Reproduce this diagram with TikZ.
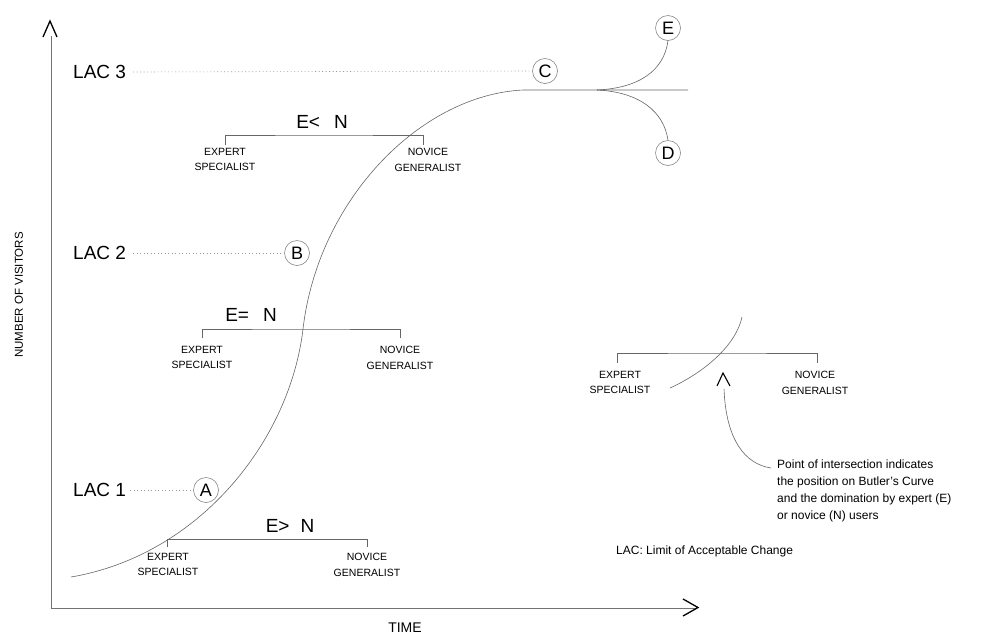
\documentclass[tikz,border=0pt]{standalone}
\usepackage{fontspec}
\setmainfont{Liberation Sans}
\begin{document}
\begin{tikzpicture}[x=1pt,y=-1pt,
  big/.style={font=\fontsize{19}{21}\selectfont, inner sep=0pt},
  rel/.style={font=\fontsize{19}{21}\selectfont, inner sep=0pt},
  lbl/.style={font=\fontsize{10.5}{15.5}\selectfont, align=center, inner sep=0pt, anchor=north},
  circ/.style={circle, draw=black!55, line width=0.5pt, minimum size=25pt, inner sep=0pt, font=\fontsize{18}{20}\selectfont},
  thinln/.style={draw=black!60, line width=0.6pt},
  axisln/.style={draw=black!55, line width=0.8pt},
  caretln/.style={draw=black, line width=1.3pt, line join=miter},
  dotln/.style={draw=black!40, line width=0.6pt, dash pattern=on 1pt off 2.5pt},
  note/.style={font=\fontsize{12}{17}\selectfont, align=left, inner sep=0pt}]
\useasboundingbox (0,0) rectangle (984,638);

% axes
\coordinate (ytop) at (51,36);
\coordinate (orig) at (51,608);
\coordinate (xend) at (697,608);
\draw[axisln] (ytop) -- (orig) -- (xend);
\draw[caretln] (43,37) -- (50,21) -- (57,37);
\draw[caretln] (683,599) -- (698,607.5) -- (683,616);
\node[font=\fontsize{14}{16}\selectfont, inner sep=0pt] (time) at (405,628) {TIME};
\node[font=\fontsize{11.5}{13}\selectfont, inner sep=0pt, rotate=90] (nov) at (19,295) {NUMBER OF VISITORS};

% LAC levels and stage circles
\node[big, anchor=west] (lac3) at (73,72) {LAC 3};
\node[big, anchor=west] (lac2) at (73,253) {LAC 2};
\node[big, anchor=west] (lac1) at (73,490) {LAC 1};
\node[circ] (C) at (545,71) {C};
\node[circ] (B) at (297,253) {B};
\node[circ] (A) at (206,490) {A};
\node[circ] (E) at (668,28) {E};
\node[circ] (D) at (668,153) {D};
\draw[dotln] ([xshift=7pt]lac3.east) -- ([xshift=-3pt]C.west);
\draw[dotln] ([xshift=7pt]lac2.east) -- ([xshift=-3pt]B.west);
\draw[dotln] ([xshift=4pt]lac1.east) -- ([xshift=-3pt]A.west);

% Butler curve
\coordinate (cstart) at (71,577);
\coordinate (inflect) at (303,329);
\coordinate (plateau) at (523,90);
\coordinate (branch) at (597,90);
\coordinate (cend) at (688,90);
\draw[thinln] (cstart) .. controls (200,555) and (290,440) .. (inflect)
  .. controls (318,200) and (420,95) .. (plateau) -- (cend);
\draw[thinln] (branch) .. controls (640,88) and (664,70) .. (E.south);
\draw[thinln] (branch) .. controls (640,92) and (664,112) .. (D.north);

% bottom bracket
\coordinate (b1l) at (167,547);
\coordinate (b1r) at (367,547);
\draw[thinln] (b1l) |- (267,539) -| (b1r);
\node[rel] (r1) at (290,526) {E>\hspace{11pt}N};
\node[lbl] (e1) at (168,553) {EXPERT\\SPECIALIST};
\node[lbl] (n1) at (367,553) {NOVICE\\GENERALIST};

% middle bracket
\coordinate (b2l) at (202,338);
\coordinate (b2r) at (400,338);
\draw[thinln] (b2l) |- (301,329) -| (b2r);
\node[rel] (r2) at (251,315) {E=\hspace{14pt}N};
\node[lbl] (e2) at (202,346) {EXPERT\\SPECIALIST};
\node[lbl] (n2) at (400,346) {NOVICE\\GENERALIST};

% top bracket
\coordinate (b3l) at (225,145);
\coordinate (b3r) at (423,145);
\draw[thinln] (b3l) |- (324,135) -| (b3r);
\node[rel] (r3) at (322,122) {E<\hspace{14pt}N};
\node[lbl] (e3) at (225,148) {EXPERT\\SPECIALIST};
\node[lbl] (n3) at (428,148) {NOVICE\\GENERALIST};

% legend
\coordinate (b4l) at (617,363);
\coordinate (b4r) at (817,363);
\draw[thinln] (b4l) |- (717,353) -| (b4r);
\node[lbl] (e4) at (620,371) {EXPERT\\SPECIALIST};
\node[lbl] (n4) at (815,371) {NOVICE\\GENERALIST};
\coordinate (lc1) at (670,388);
\coordinate (lc2) at (742,317);
\draw[thinln] (lc1) .. controls (705,372) and (736,345) .. (lc2);
\coordinate (ctip) at (723,373);
\draw[caretln, line width=1.1pt] (717,386) -- (ctip) -- (730,386);
\node[note, anchor=north west] (expl) at (777,460) {Point of intersection indicates\\the position on Butler's Curve\\and the domination by expert (E)\\or novice (N) users};
\coordinate (ctail) at (724,389);
\draw[thinln] (ctail) .. controls (726,440) and (745,464) .. ([xshift=-6pt, yshift=-8pt]expl.north west);
\node[note, anchor=west] (lacdef) at (616,551) {LAC: Limit of Acceptable Change};
\end{tikzpicture}
\end{document}
